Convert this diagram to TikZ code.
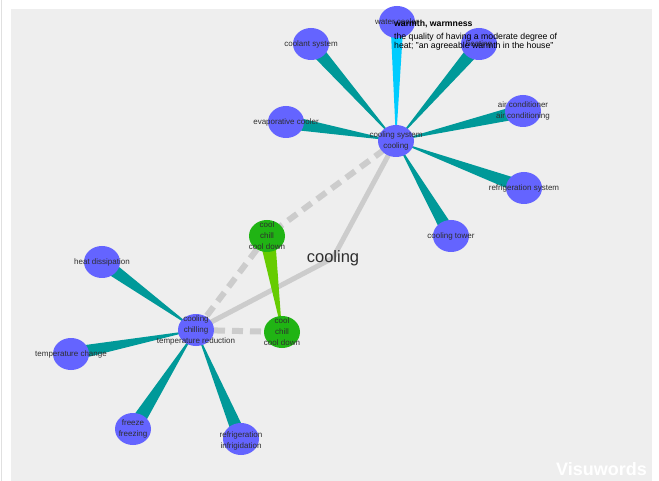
\documentclass[tikz,border=0pt]{standalone}
\usepackage{fontspec}
\setmainfont{Liberation Sans}
\usetikzlibrary{shapes.geometric,calc}

\definecolor{bgpanel}{HTML}{EEEEEE}
\definecolor{nounblue}{HTML}{6464FF}
\definecolor{verbgreen}{HTML}{20B414}
\definecolor{hyplink}{HTML}{009999}
\definecolor{antlink}{HTML}{00CCFF}
\definecolor{verblink}{HTML}{66CC00}
\definecolor{sensegray}{HTML}{CCCCCC}
\definecolor{labeltext}{HTML}{2E2E2E}

\pgfdeclarelayer{paper}
\pgfdeclarelayer{links}
\pgfsetlayers{paper,links,main}

% tapered link: apex at #2, broad end of half-width #4 at #3
\newcommand\wedgelink[4]{%
  \fill[#1] (#2.center) -- ($(#3.center)!#4!90:(#2.center)$)
    -- ($(#3.center)!#4!-90:(#2.center)$) -- cycle;}

\begin{document}
\begin{tikzpicture}[x=1pt,y=-1pt,
  blob/.style={ellipse, fill=nounblue, minimum width=36pt, minimum height=32pt, inner sep=0pt},
  vblob/.style={blob, fill=verbgreen},
  lbl/.style={text=labeltext, font=\fontsize{8}{11}\selectfont, align=center, inner sep=0pt},
  senseline/.style={draw=sensegray, line width=5pt},
  sensedash/.style={draw=sensegray, line width=6pt, dash pattern=on 11pt off 7pt},
  tip/.style={text=black, inner sep=0pt, align=left, anchor=north west},
]
\useasboundingbox (0,0) rectangle (659,481);
\begin{pgfonlayer}{paper}
  \fill[white] (0,0) rectangle (659,481);
  \fill[bgpanel] (11,9) rectangle (652,481);
  \draw[black!12, line width=0.8pt] (1,0) -- (1,481);
\end{pgfonlayer}

% word nodes
\node[blob] (hubA) at (396,141) {};
\node[blob] (water) at (397,22) {};
\node[blob] (coolant) at (311,44) {};
\node[blob] (evap) at (286,122) {};
\node[blob] (heatn) at (479,44) {};
\node[blob] (aircon) at (523,111) {};
\node[blob] (refsys) at (524,188) {};
\node[blob] (tower) at (451,236) {};
\node[vblob] (green1) at (267,236) {};
\node[vblob] (green2) at (282,332) {};
\node[blob] (hubB) at (196,330) {};
\node[blob] (heatd) at (102,262) {};
\node[blob] (tempch) at (71,354) {};
\node[blob] (freeze) at (133,429) {};
\node[blob] (refrig) at (241,439) {};

% labels
\node[lbl] at (hubA) {cooling system\\cooling};
\node[lbl] at (water) {water cooler};
\node[lbl] at (coolant) {coolant system};
\node[lbl] at (evap) {evaporative cooler};
\node[lbl] at (heatn) {heating};
\node[lbl] at (aircon) {air conditioner\\air conditioning};
\node[lbl] at (refsys) {refrigeration system};
\node[lbl] at (tower) {cooling tower};
\node[lbl] at (green1) {cool\\chill\\cool down};
\node[lbl] at (green2) {cool\\chill\\cool down};
\node[lbl] at (hubB) {cooling\\chilling\\temperature reduction};
\node[lbl] at (heatd) {heat dissipation};
\node[lbl] at (tempch) {temperature change};
\node[lbl] at (freeze) {freeze\\freezing};
\node[lbl] at ([yshift=-1.5pt]refrig.center) {refrigeration\\infrigidation};

\node[text=labeltext, font=\fontsize{16.5}{18}\selectfont, inner sep=0pt] (word) at (333,258) {cooling};

% connectors, underneath the nodes
\begin{pgfonlayer}{links}
  \draw[senseline] (hubB.center) -- (word.center) -- (hubA.center);
  \draw[sensedash] (hubB.center) -- (green1.center) -- (hubA.center);
  \draw[sensedash] (hubB.center) -- (green2.center);
  \wedgelink{hyplink}{hubA}{coolant}{7pt}
  \wedgelink{hyplink}{hubA}{evap}{7pt}
  \wedgelink{hyplink}{hubA}{heatn}{7pt}
  \wedgelink{hyplink}{hubA}{aircon}{7pt}
  \wedgelink{hyplink}{hubA}{refsys}{7pt}
  \wedgelink{hyplink}{hubA}{tower}{7pt}
  \wedgelink{antlink}{hubA}{water}{6.5pt}
  \wedgelink{hyplink}{hubB}{heatd}{7pt}
  \wedgelink{hyplink}{hubB}{tempch}{7pt}
  \wedgelink{hyplink}{hubB}{freeze}{7.5pt}
  \wedgelink{hyplink}{hubB}{refrig}{7pt}
  \wedgelink{verblink}{green2}{green1}{8pt}
\end{pgfonlayer}

% hover box text
\node[tip, anchor=base west, font=\bfseries\fontsize{8.7}{9}\selectfont] (tiptitle) at (394,27) {warmth, warmness};
\node[tip, font=\fontsize{8.7}{9}\selectfont] (tipbody) at (394,32.5)
  {the quality of having a moderate degree of\\heat; "an agreeable warmth in the house"};

% watermark
\node[text=white, anchor=base east, inner sep=0pt, font=\bfseries\fontsize{18}{18}\selectfont] (mark) at (647,475) {Visuwords};
\end{tikzpicture}
\end{document}
